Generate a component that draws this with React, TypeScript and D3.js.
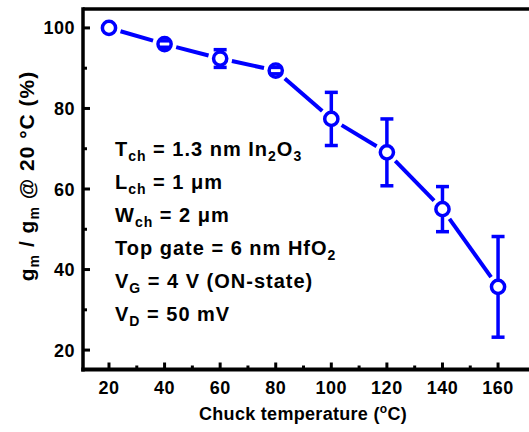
import React from "react";
import * as d3 from "d3";

const temps = [20, 40, 60, 80, 100, 120, 140, 160];
const ratios = [100, 96.0, 92.4, 89.4, 77.4, 69.1, 55.0, 35.7];
const errs = [0, 0.8, 2.2, 0.8, 6.6, 8.3, 5.6, 12.5];
const xTicks = [20, 40, 60, 80, 100, 120, 140, 160];
const xMinor = [30, 50, 70, 90, 110, 130, 150];
const yTicks = [20, 40, 60, 80, 100];
const yMinor = [30, 50, 70, 90];

const W = 529, H = 432;
const BLUE = "#0000ff";
const FONT = "'Liberation Sans', Arial, sans-serif";

export default function App() {
  const x = d3.scaleLinear().domain([10, 172]).range([81.2, 531.4]);
  const y = d3.scaleLinear().domain([15.3, 104.7]).range([369, 9]);
  const left = 83, top = 9, bottom = 369.5;
  const r = 6.6;
  const gap = 12;
  const pts = temps.map((t, i) => ({ cx: x(t), cy: y(ratios[i]), e: errs[i], v: ratios[i] }));
  const segs = pts.slice(1).map((p, i) => {
    const a = pts[i];
    const dx = p.cx - a.cx, dy = p.cy - a.cy;
    const L = Math.hypot(dx, dy);
    const ux = dx / L, uy = dy / L;
    return { x1: a.cx + ux * gap, y1: a.cy + uy * gap, x2: p.cx - ux * gap, y2: p.cy - uy * gap };
  });
  const capW = 13;
  const lines = [
    { parts: [["T", 0], ["ch", 1], [" = 1.3 nm In", 0], ["2", 1], ["O", 0], ["3", 1]] },
    { parts: [["L", 0], ["ch", 1], [" = 1 μm", 0]] },
    { parts: [["W", 0], ["ch", 1], [" = 2 μm", 0]] },
    { parts: [["Top gate = 6 nm HfO", 0], ["2", 1]] },
    { parts: [["V", 0], ["G", 1], [" = 4 V (ON-state)", 0]] },
    { parts: [["V", 0], ["D", 1], [" = 50 mV", 0]] },
  ];
  const renderParts = (parts: any[]) => {
    let prevSub = false;
    return parts.map(([t, sub]: any, k: number) => {
      let dy = 0;
      if (sub && !prevSub) dy = 5;
      else if (!sub && prevSub) dy = -5;
      prevSub = !!sub;
      return (
        <tspan key={k} dy={dy} fontSize={sub ? 14 : 20}>
          {t}
        </tspan>
      );
    });
  };
  return (
    <svg width={W} height={H} style={{ position: "absolute", left: 0, top: 0, background: "#fff" }} fontFamily={FONT} fontWeight="bold">
      {/* frame */}
      <line x1={left} x2={W + 5} y1={top} y2={top} stroke="#000" strokeWidth={3.5} />
      <line x1={left} x2={left} y1={top - 1.75} y2={bottom + 2} stroke="#000" strokeWidth={3.5} />
      <line x1={left - 1.75} x2={W + 5} y1={bottom} y2={bottom} stroke="#000" strokeWidth={4} />
      {/* ticks */}
      {xTicks.map((t) => (
        <line key={"xt" + t} x1={x(t)} x2={x(t)} y1={bottom} y2={bottom - 7} stroke="#000" strokeWidth={3} />
      ))}
      {xMinor.map((t) => (
        <line key={"xm" + t} x1={x(t)} x2={x(t)} y1={bottom} y2={bottom - 4} stroke="#000" strokeWidth={3} />
      ))}
      {yTicks.map((t) => (
        <line key={"yt" + t} x1={left} x2={left + 7} y1={y(t)} y2={y(t)} stroke="#000" strokeWidth={3} />
      ))}
      {yMinor.map((t) => (
        <line key={"ym" + t} x1={left} x2={left + 4} y1={y(t)} y2={y(t)} stroke="#000" strokeWidth={3} />
      ))}
      {/* tick labels */}
      {xTicks.map((t) => (
        <text key={"xl" + t} x={x(t)} y={393.5} textAnchor="middle" fontSize={18} letterSpacing={0.5}>
          {t}
        </text>
      ))}
      {yTicks.map((t) => (
        <text key={"yl" + t} x={75} y={y(t) + 6.5} textAnchor="end" fontSize={18} letterSpacing={0.5}>
          {t}
        </text>
      ))}
      {/* axis titles */}
      <text x={303} y={420} textAnchor="middle" fontSize={18} letterSpacing={0.3}>
        Chuck temperature (<tspan fontSize={12} dy={-7}>o</tspan><tspan dy={7}>C)</tspan>
      </text>
      <text transform={`translate(34, 176) rotate(-90)`} textAnchor="middle" fontSize={21} letterSpacing={1}>
        g<tspan fontSize={14} dy={5}>m</tspan>
        <tspan dy={-5}> / g</tspan>
        <tspan fontSize={14} dy={5}>m</tspan>
        <tspan dy={-5}> @ 20 °C (%)</tspan>
      </text>
      {/* annotation */}
      {lines.map((ln, i) => (
        <text key={"an" + i} x={115} y={156 + i * 33} fontSize={20} letterSpacing={1}>
          {renderParts(ln.parts)}
        </text>
      ))}
      {/* connecting line */}
      {segs.map((s, i) => (
        <line key={"sg" + i} {...s} stroke={BLUE} strokeWidth={4} />
      ))}
      {/* error bar stems */}
      {pts.filter((p) => p.e > 0).map((p, i) => (
        <line key={"eb" + i} x1={p.cx} x2={p.cx} y1={y(p.v + p.e)} y2={y(p.v - p.e)} stroke={BLUE} strokeWidth={3.5} />
      ))}
      {/* markers */}
      {pts.map((p, i) => (
        <circle key={"mk" + i} cx={p.cx} cy={p.cy} r={r} fill="#fff" stroke={BLUE} strokeWidth={3.5} />
      ))}
      {/* caps */}
      {pts.filter((p) => p.e > 0).map((p, i) => (
        <g key={"cp" + i}>
          <line x1={p.cx - capW / 2} x2={p.cx + capW / 2} y1={y(p.v + p.e)} y2={y(p.v + p.e)} stroke={BLUE} strokeWidth={3.5} />
          <line x1={p.cx - capW / 2} x2={p.cx + capW / 2} y1={y(p.v - p.e)} y2={y(p.v - p.e)} stroke={BLUE} strokeWidth={3.5} />
        </g>
      ))}
    </svg>
  );
}
